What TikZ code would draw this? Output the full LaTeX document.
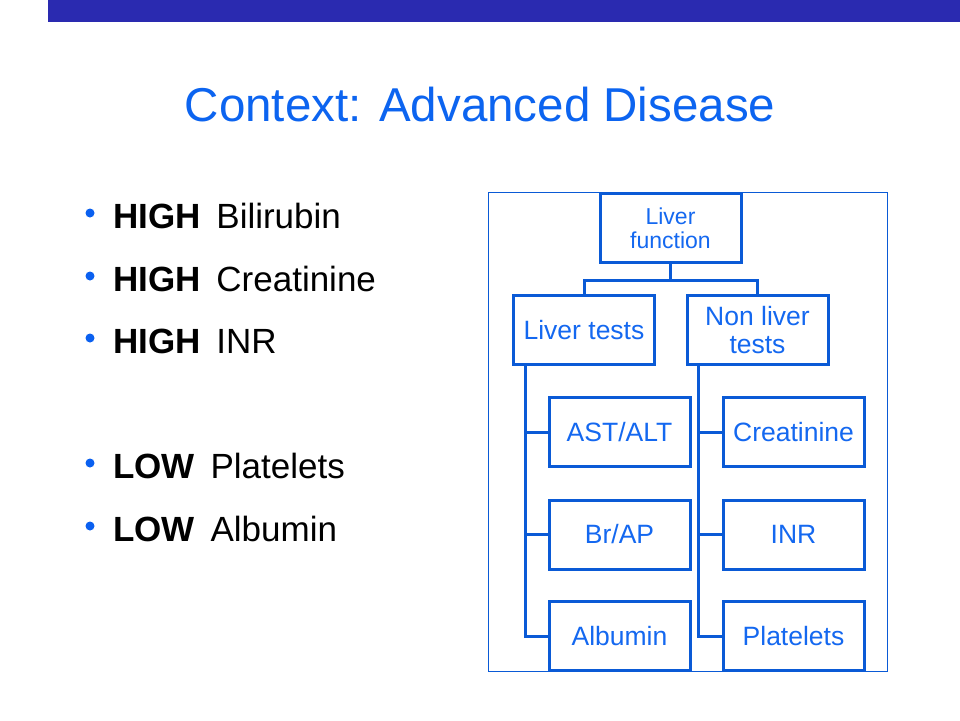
\documentclass[tikz,border=0pt]{standalone}
\usepackage{fontspec}
\setmainfont{Liberation Sans}
\definecolor{barblue}{RGB}{42,42,176}
\definecolor{titleblue}{RGB}{12,100,240}
\definecolor{lineblue}{RGB}{10,90,214}
\definecolor{textblue}{RGB}{20,104,240}
\definecolor{dotblue}{RGB}{10,96,240}
\newcommand{\bgap}{\hspace{6pt}}
\begin{document}
\begin{tikzpicture}[x=1pt,y=-1pt,
  box/.style={draw=lineblue,line width=3pt,fill=white,minimum width=141pt,minimum height=69pt,
    inner sep=0pt,align=center,text=textblue,font=\fontsize{26.5}{28}\selectfont},
  conn/.style={draw=lineblue,line width=3pt},
  bul/.style={anchor=base west,font=\fontsize{35}{40}\selectfont,text=black,inner sep=0pt}]
\useasboundingbox (0,0) rectangle (960,720);
\fill[white] (0,0) rectangle (960,720);
% top bar
\fill[barblue] (48,0) rectangle (960,22);
% title
\node[anchor=base,inner sep=0pt,text=titleblue,font=\fontsize{47.5}{52}\selectfont] (title) at (480,121) {Context: Advanced Disease};
% bullets
\foreach \y/\nm/\t in {228/b1/{\textbf{HIGH} \bgap Bilirubin},291/b2/{\textbf{HIGH} \bgap Creatinine},353/b3/{\textbf{HIGH} \bgap INR},478/b4/{\textbf{LOW} \bgap Platelets},541/b5/{\textbf{LOW} \bgap Albumin}}{
  \fill[dotblue] (90,\y-15) circle (4.5);
  \node[bul] (\nm) at (113,\y) {\t};
}
% outer frame
\draw[lineblue,line width=1pt] (488.5,192.5) rectangle (887.5,671.5);
% nodes
\node[box,font=\fontsize{23}{24}\selectfont] (lf) at (670.5,228) {Liver\\function};
\node[box] (lt) at (584,330) {Liver tests};
\node[box] (nl) at (757.5,330) {Non liver\\tests};
\node[box] (ast) at (619.5,432) {AST/ALT};
\node[box] (br) at (619.5,534.5) {Br/AP};
\node[box] (alb) at (619.5,636) {Albumin};
\node[box] (cre) at (793.5,432) {Creatinine};
\node[box] (inr) at (793.5,534.5) {INR};
\node[box] (pla) at (793.5,636) {Platelets};
% connectors
\coordinate (j) at ([yshift=-16.5pt]lf.south);
\coordinate (lttrunk) at ([xshift=13pt]lt.south west);
\coordinate (nltrunk) at ([xshift=13pt]nl.south west);
\draw[conn] (lf.south) -- (j);
\draw[conn] (j) -| (lt.north);
\draw[conn] (j) -| (nl.north);
\draw[conn] (lttrunk) |- (alb.west);
\draw[conn] (ast.west) -- (ast.west -| lttrunk);
\draw[conn] (br.west) -- (br.west -| lttrunk);
\draw[conn] (nltrunk) |- (pla.west);
\draw[conn] (cre.west) -- (cre.west -| nltrunk);
\draw[conn] (inr.west) -- (inr.west -| nltrunk);
\end{tikzpicture}
\end{document}
